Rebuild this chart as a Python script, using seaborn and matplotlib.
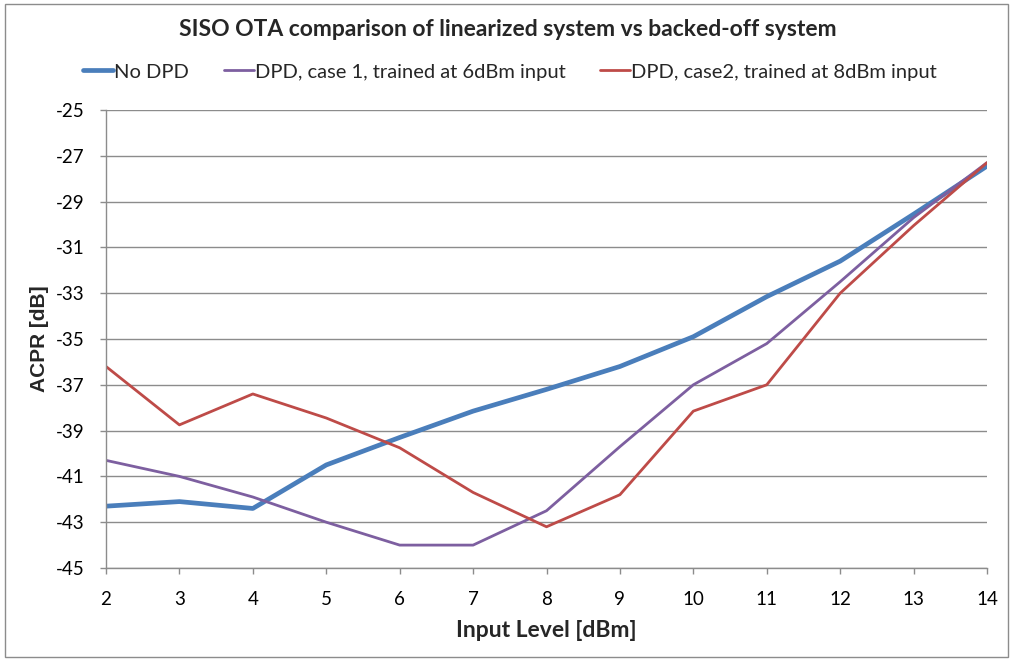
import matplotlib
matplotlib.use("Agg")
import matplotlib.pyplot as plt
import seaborn as sns
import pandas as pd
from matplotlib.patches import Rectangle

# Input level sweep (dBm)
input_level = [2, 3, 4, 5, 6, 7, 8, 9, 10, 11, 12, 13, 14]

# ACPR measurements (dB)
acpr_no_dpd = [-42.3, -42.1, -42.4, -40.5, -39.3, -38.15, -37.2, -36.2, -34.9, -33.15, -31.6, -29.55, -27.45]
acpr_case1 = [-40.3, -41.0, -41.9, -43.0, -44.0, -44.0, -42.5, -39.7, -37.0, -35.2, -32.5, -29.7, -27.3]
acpr_case2 = [-36.2, -38.75, -37.4, -38.45, -39.75, -41.7, -43.2, -41.8, -38.15, -37.0, -33.0, -30.05, -27.3]

labels = ["No DPD",
          "DPD, case 1, trained at 6dBm input",
          "DPD, case2, trained at 8dBm input"]
colors = ["#4A7EBB", "#7D5FA0", "#BE4B48"]
widths = [3.4, 2.0, 2.0]

y_ticks = [-45, -43, -41, -39, -37, -35, -33, -31, -29, -27, -25]

sns.set_theme(style="white")
plt.rcParams["font.family"] = ["Lato", "DejaVu Sans"]

fig = plt.figure(figsize=(10.13, 6.61), dpi=100)
ax = fig.add_axes([106 / 1013, 1 - 568 / 661, (987 - 106) / 1013, (568 - 110) / 661])

series = [acpr_no_dpd, acpr_case1, acpr_case2]
for vals, lab, col, lw in zip(series, labels, colors, widths):
    df = pd.DataFrame({"Input Level": input_level, "ACPR": vals})
    sns.lineplot(data=df, x="Input Level", y="ACPR", ax=ax, color=col,
                 linewidth=lw, label=lab, solid_joinstyle="round",
                 solid_capstyle="round")

ax.set_xlim(2, 14)
ax.set_ylim(-45, -25)
ax.set_xticks(input_level)
ax.set_yticks(y_ticks)
ax.set_xticklabels([str(v) for v in input_level], fontsize=13.5)
ax.set_yticklabels([str(v) for v in y_ticks], fontsize=13.5)

grid_col = "#8C8C8C"
ax.yaxis.grid(True, color=grid_col, linewidth=1.0)
ax.xaxis.grid(False)
ax.set_axisbelow(True)
for side in ["top", "right"]:
    ax.spines[side].set_visible(False)
for side in ["left", "bottom"]:
    ax.spines[side].set_color(grid_col)
    ax.spines[side].set_linewidth(1.0)
ax.tick_params(axis="both", which="major", direction="out", length=4.5,
               width=1.0, colors="#000000", left=True, bottom=True)
ax.tick_params(axis="both", which="major", color=grid_col)
ax.tick_params(axis="x", pad=12)
ax.tick_params(axis="y", pad=11)

ax.set_xlabel("Input Level [dBm]", fontsize=16.5, fontweight="bold", labelpad=9)
ax.set_ylabel("ACPR [dB]", fontsize=15, fontweight="bold", labelpad=5,
              family=["Liberation Sans", "DejaVu Sans"])

fig.suptitle("SISO OTA comparison of linearized system vs backed-off system",
             x=508 / 1013, y=1 - 30 / 661, va="center",
             fontsize=16.5, fontweight="bold")

ax.legend(loc="center", bbox_to_anchor=(510 / 1013, (661 - 72) / 661), bbox_transform=fig.transFigure,
          ncol=3, frameon=False, fontsize=14.5, handlelength=1.5,
          handletextpad=0.05, columnspacing=1.7, borderaxespad=0)

# chart-area border
fig.patches.append(Rectangle((5 / 1013, 4 / 661), 1003 / 1013, 653 / 661,
                             transform=fig.transFigure, fill=False,
                             edgecolor="#8C8C8C", linewidth=1.0))

fig.savefig("out.png", dpi=100)
